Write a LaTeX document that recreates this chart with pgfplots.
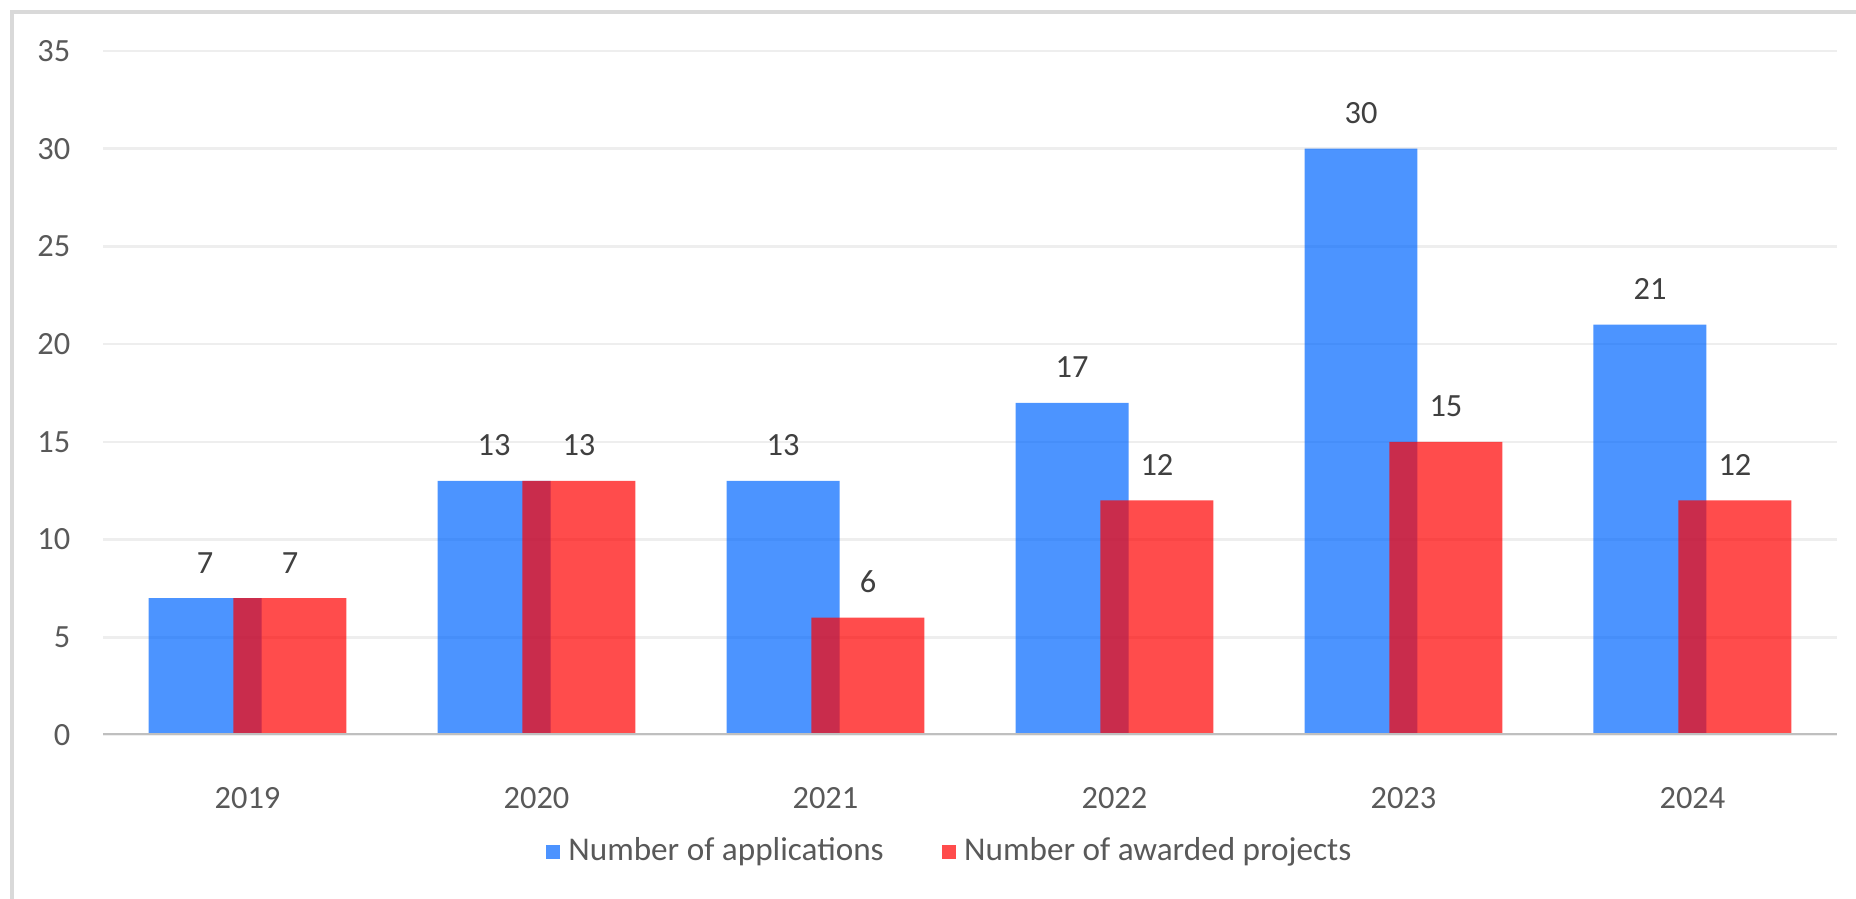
\documentclass[border=0pt]{standalone}
\usepackage{fontspec}
\setmainfont{Carlito}
\usepackage{pgfplots}
\pgfplotsset{compat=1.18}
\definecolor{barblue}{RGB}{0,102,255}
\definecolor{barred}{RGB}{255,0,0}
\definecolor{lblgray}{RGB}{89,89,89}
\definecolor{valgray}{RGB}{64,64,64}
\definecolor{gridc}{RGB}{238,238,238}
\definecolor{axc}{RGB}{191,191,191}
\definecolor{framec}{RGB}{217,217,217}
\begin{document}
\begin{tikzpicture}[x=1pt,y=1pt]
\useasboundingbox (0,0) rectangle (464,224.75);
\draw[framec, line width=0.8pt] (3,-2) -- (3,221.75) -- (466,221.75);
\begin{axis}[
  at={(25.75pt,41pt)}, anchor=south west,
  scale only axis, width=433.5pt, height=171pt,
  xmin=-0.5, xmax=5.5, ymin=0, ymax=35,
  xtick={0,1,2,3,4,5}, xticklabels={2019,2020,2021,2022,2023,2024},
  ytick={0,5,10,15,20,25,30,35},
  ymajorgrids, grid style={gridc, line width=0.65pt},
  axis line style={draw=none}, major tick style={draw=none},
  ticklabel style={font=\fontsize{8.1}{10}\selectfont, text=lblgray},
  /pgf/number format/assume math mode=true,
  yticklabel style={anchor=east, inner sep=0pt, xshift=-8pt},
  xticklabel style={anchor=north, inner sep=0pt, yshift=-8.75pt},
  ybar, bar width=0.391,
  nodes near coords,
  every node near coord/.style={anchor=south, inner sep=0pt, yshift=6pt, font=\fontsize{8.1}{10}\selectfont, text=valgray, text opacity=1},
  legend style={at={(0.49,-0.171)}, anchor=center, draw=none, legend columns=2,
    font=\fontsize{8.3}{10}\selectfont, text=lblgray, text opacity=1,
    /tikz/every even column/.append style={column sep=12.5pt}},
  legend image code/.code={\fill[#1] (0pt,-1.8pt) rectangle (3.6pt,1.8pt);},
]
\addplot[fill=barblue, fill opacity=0.7, draw=none, bar shift=0pt]
  coordinates {(-0.147,7) (0.853,13) (1.853,13) (2.853,17) (3.853,30) (4.853,21)};
\addlegendentry{Number of applications}
\addplot[fill=barred, fill opacity=0.7, draw=none, bar shift=0pt]
  coordinates {(0.147,7) (1.147,13) (2.147,6) (3.147,12) (4.147,15) (5.147,12)};
\addlegendentry{Number of awarded projects}
\draw[axc, line width=1.1pt] (axis cs:-0.5,0) -- (axis cs:5.5,0);
\end{axis}
\end{tikzpicture}
\end{document}
